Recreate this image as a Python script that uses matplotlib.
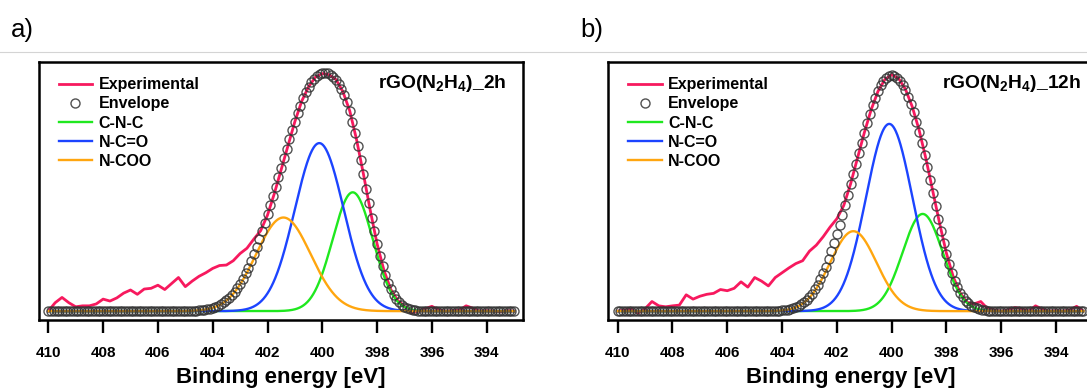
import numpy as np
import matplotlib
matplotlib.use("Agg")
import matplotlib.pyplot as plt
from matplotlib.lines import Line2D

plt.rcParams['font.family'] = ['Liberation Sans', 'DejaVu Sans']
plt.rcParams['mathtext.fontset'] = 'custom'
plt.rcParams['mathtext.rm'] = 'Liberation Sans:bold'
plt.rcParams['mathtext.it'] = 'Liberation Sans:bold'
plt.rcParams['mathtext.bf'] = 'Liberation Sans:bold'

# ---------------- data ----------------
tick_values = [410, 408, 406, 404, 402, 400, 398, 396, 394]
component_names = ['C-N-C', 'N-C=O', 'N-COO']
panel_letters = ['a)', 'b)']
sample_names = ['rGO(N$_2$H$_4$)_2h', 'rGO(N$_2$H$_4$)_12h']

# fitted peak parameters: centre [eV], height [norm.], FWHM [eV]
a_centers = [398.89, 400.11, 401.42]
a_heights = [0.495, 0.700, 0.390]
a_fwhm = [1.72, 2.10, 2.35]

b_centers = [398.87, 400.09, 401.40]
b_heights = [0.405, 0.780, 0.333]
b_fwhm = [1.72, 2.00, 2.00]

# experimental spectra (0.25 eV steps from 410 eV down to 393 eV)
exp_energy = np.arange(410.0, 392.99, -0.25)
a_experimental = [
    0.000, 0.035, 0.057, 0.035, 0.018, 0.022, 0.022, 0.030, 0.050, 0.042,
    0.055, 0.075, 0.088, 0.070, 0.092, 0.095, 0.108, 0.090, 0.115, 0.140,
    0.102, 0.125, 0.145, 0.160, 0.178, 0.190, 0.192, 0.210, 0.240, 0.262,
    0.300, 0.335, 0.400, 0.490, 0.590, 0.690, 0.790, 0.875, 0.935, 0.975,
    0.990, 0.985, 0.965, 0.915, 0.835, 0.715, 0.572, 0.420, 0.280, 0.170,
    0.090, 0.045, 0.020, -0.008, 0.000, 0.010, 0.020, 0.005, 0.000, 0.002,
    0.004, 0.022, 0.012, 0.000, 0.002, 0.000, -0.003, 0.002, 0.000]
b_experimental = [
    0.000, 0.005, 0.008, -0.008, 0.010, 0.040, 0.022, 0.018, 0.022, 0.025,
    0.068, 0.050, 0.062, 0.070, 0.074, 0.090, 0.085, 0.095, 0.122, 0.100,
    0.140, 0.125, 0.105, 0.140, 0.160, 0.180, 0.198, 0.210, 0.250, 0.275,
    0.310, 0.350, 0.385, 0.440, 0.530, 0.637, 0.743, 0.839, 0.916, 0.965,
    0.985, 0.970, 0.925, 0.852, 0.755, 0.635, 0.500, 0.365, 0.240, 0.142,
    0.076, 0.037, 0.030, 0.040, 0.010, 0.005, 0.000, 0.005, 0.015, 0.010,
    0.000, 0.022, 0.008, 0.000, 0.002, 0.000, 0.005, 0.020, 0.000]

# ---------------- style ----------------
exp_color = '#f7195e'
comp_colors = ['#1fe81f', '#1c44ff', '#ffa60f']
env_edge = '#333333'

W, H = 1087, 389
fig = plt.figure(figsize=(W / 100, H / 100), dpi=100)

def px_axes(left, top, right, bottom):
    return fig.add_axes([left / W, 1 - bottom / H, (right - left) / W, (bottom - top) / H])

def gauss(x, c, h, f):
    return h * np.exp(-4 * np.log(2) * (x - c) ** 2 / f ** 2)

env_x = np.linspace(410.0, 393.0, 171)
fine_x = np.linspace(410.0, 393.0, 1200)

panels = [
    dict(box=(38.5, 62, 523.0, 320), xlim=(410.358, 392.675),
         centers=a_centers, heights=a_heights, fwhm=a_fwhm, exp=a_experimental,
         letter_x=11, name_x=0.701),
    dict(box=(608.3, 62, 1092.8, 320), xlim=(410.343, 392.66),
         centers=b_centers, heights=b_heights, fwhm=b_fwhm, exp=b_experimental,
         letter_x=580, name_x=0.689),
]

for i, p in enumerate(panels):
    ax = px_axes(*p['box'])
    ax.plot(exp_energy, p['exp'], color=exp_color, lw=2.0, zorder=3,
            label='Experimental')
    env = np.zeros_like(env_x)
    for c, h, f in zip(p['centers'], p['heights'], p['fwhm']):
        env += gauss(env_x, c, h, f)
    ax.plot(env_x, env, ls='none', marker='o', ms=6.5, mfc='none',
            mec=env_edge, mew=1.0, alpha=0.85, zorder=5, label='Envelope')
    for name, col, c, h, f in zip(component_names, comp_colors,
                                  p['centers'], p['heights'], p['fwhm']):
        ax.plot(fine_x, gauss(fine_x, c, h, f), color=col, lw=1.7, zorder=4,
                label=name)

    ax.set_xlim(*p['xlim'])
    ax.set_ylim(-0.037, 1.038)
    ax.set_yticks([])
    ax.set_xticks(tick_values)
    ax.set_xticklabels([str(t) for t in tick_values], fontsize=11,
                       fontweight='bold')
    ax.tick_params(axis='x', direction='out', length=9, width=1.7, pad=9.5)
    for s in ax.spines.values():
        s.set_linewidth(1.8)
    ax.set_xlabel('Binding energy [eV]', fontsize=16, fontweight='bold',
                  labelpad=5)

    ax.legend(loc='upper left', bbox_to_anchor=(0.025, 0.972), frameon=False,
              borderpad=0, handlelength=2.1, handletextpad=0.4,
              labelspacing=0.26, numpoints=1,
              prop={'weight': 'bold', 'size': 11.5})
    ax.text(p['name_x'], 0.898, sample_names[i], transform=ax.transAxes,
            fontsize=13.9, fontweight='bold', ha='left', va='baseline')

    fig.text(p['letter_x'] / W, 1 - 30 / H, panel_letters[i], fontsize=18.5,
             va='center', ha='left')

fig.add_artist(Line2D([0, 1], [1 - 51.7 / H] * 2, transform=fig.transFigure,
                      color='#d4d4d4', lw=0.8))

fig.savefig('out.png', dpi=100)
